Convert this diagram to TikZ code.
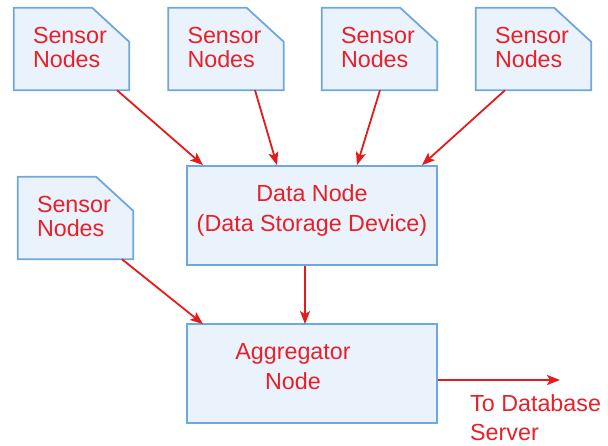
\documentclass[tikz,border=0pt]{standalone}
\usepackage{fontspec}
\setmainfont{Liberation Sans}
\usetikzlibrary{arrows.meta}
\definecolor{boxfill}{HTML}{EAF2FB}
\definecolor{boxline}{HTML}{6FA8DC}
\definecolor{txtred}{HTML}{E8202A}
\definecolor{arrred}{HTML}{E41B1B}
\begin{document}
\begin{tikzpicture}[x=1pt,y=-1pt,
  sbox/.style={draw=none, minimum width=115pt, minimum height=82pt, inner sep=0pt},
  outline/.style={draw=boxline, fill=boxfill, line width=1.8pt, line join=miter},
  bigbox/.style={rectangle, draw=boxline, fill=boxfill, line width=1.8pt, minimum width=250pt, minimum height=99pt, inner sep=0pt},
  stext/.style={text=txtred, inner sep=0pt, align=left, font=\fontsize{23.3}{24}\selectfont},
  btext/.style={text=txtred, inner sep=0pt, align=center, font=\fontsize{23.3}{30}\selectfont},
  otext/.style={text=txtred, inner sep=0pt, align=left, font=\fontsize{23.3}{29}\selectfont},
  arr/.style={draw=arrred, line width=1.8pt, -{Stealth[length=13pt,width=10pt,inset=3pt]}}
]
\useasboundingbox (0,0) rectangle (608,445);

% sensor nodes
\foreach \n/\cx/\cy in {s1/71.5/49, s2/226/49, s3/379.5/49, s4/533.5/49, s5/75.5/218}{
  \node[sbox] (\n) at (\cx,\cy) {};
  \path[outline] (\n.north west) -- ([xshift=-37pt]\n.north east) -- ([yshift=-34pt]\n.north east)
     -- (\n.south east) -- (\n.south west) -- cycle;
  \node[stext, anchor=north west] (\n t) at ([shift={(19pt,-19pt)}]\n.north west) {Sensor\\Nodes};
}

% data node and aggregator
\node[bigbox] (data) at (312,215.5) {};
\node[btext, anchor=north] (datat) at (312,184) {Data Node\\(Data Storage Device)};
\node[bigbox] (agg) at (312,373.5) {};
\node[btext, anchor=north] (aggt) at (293,343) {Aggregator\\Node};

% output label
\coordinate (out) at (560,380);
\node[otext, anchor=north west] (outt) at (470,394) {To Database\\Server};

% connectors
\draw[arr] ([xshift=45.5pt]s1.south) -- ([xshift=-109pt]data.north);
\draw[arr] ([xshift=29pt]s2.south) -- ([xshift=-35pt]data.north);
\draw[arr] ([xshift=0.5pt]s3.south) -- ([xshift=45pt]data.north);
\draw[arr] ([xshift=-28.5pt]s4.south) -- ([xshift=110pt]data.north);
\draw[arr] ([xshift=-7pt]data.south) -- ([xshift=-7pt,yshift=-1pt]agg.north);
\draw[arr] ([xshift=46.5pt]s5.south) -- ([xshift=-109pt,yshift=-1pt]agg.north);
\draw[arr] (agg.east |- out) -- (out);
\end{tikzpicture}
\end{document}
